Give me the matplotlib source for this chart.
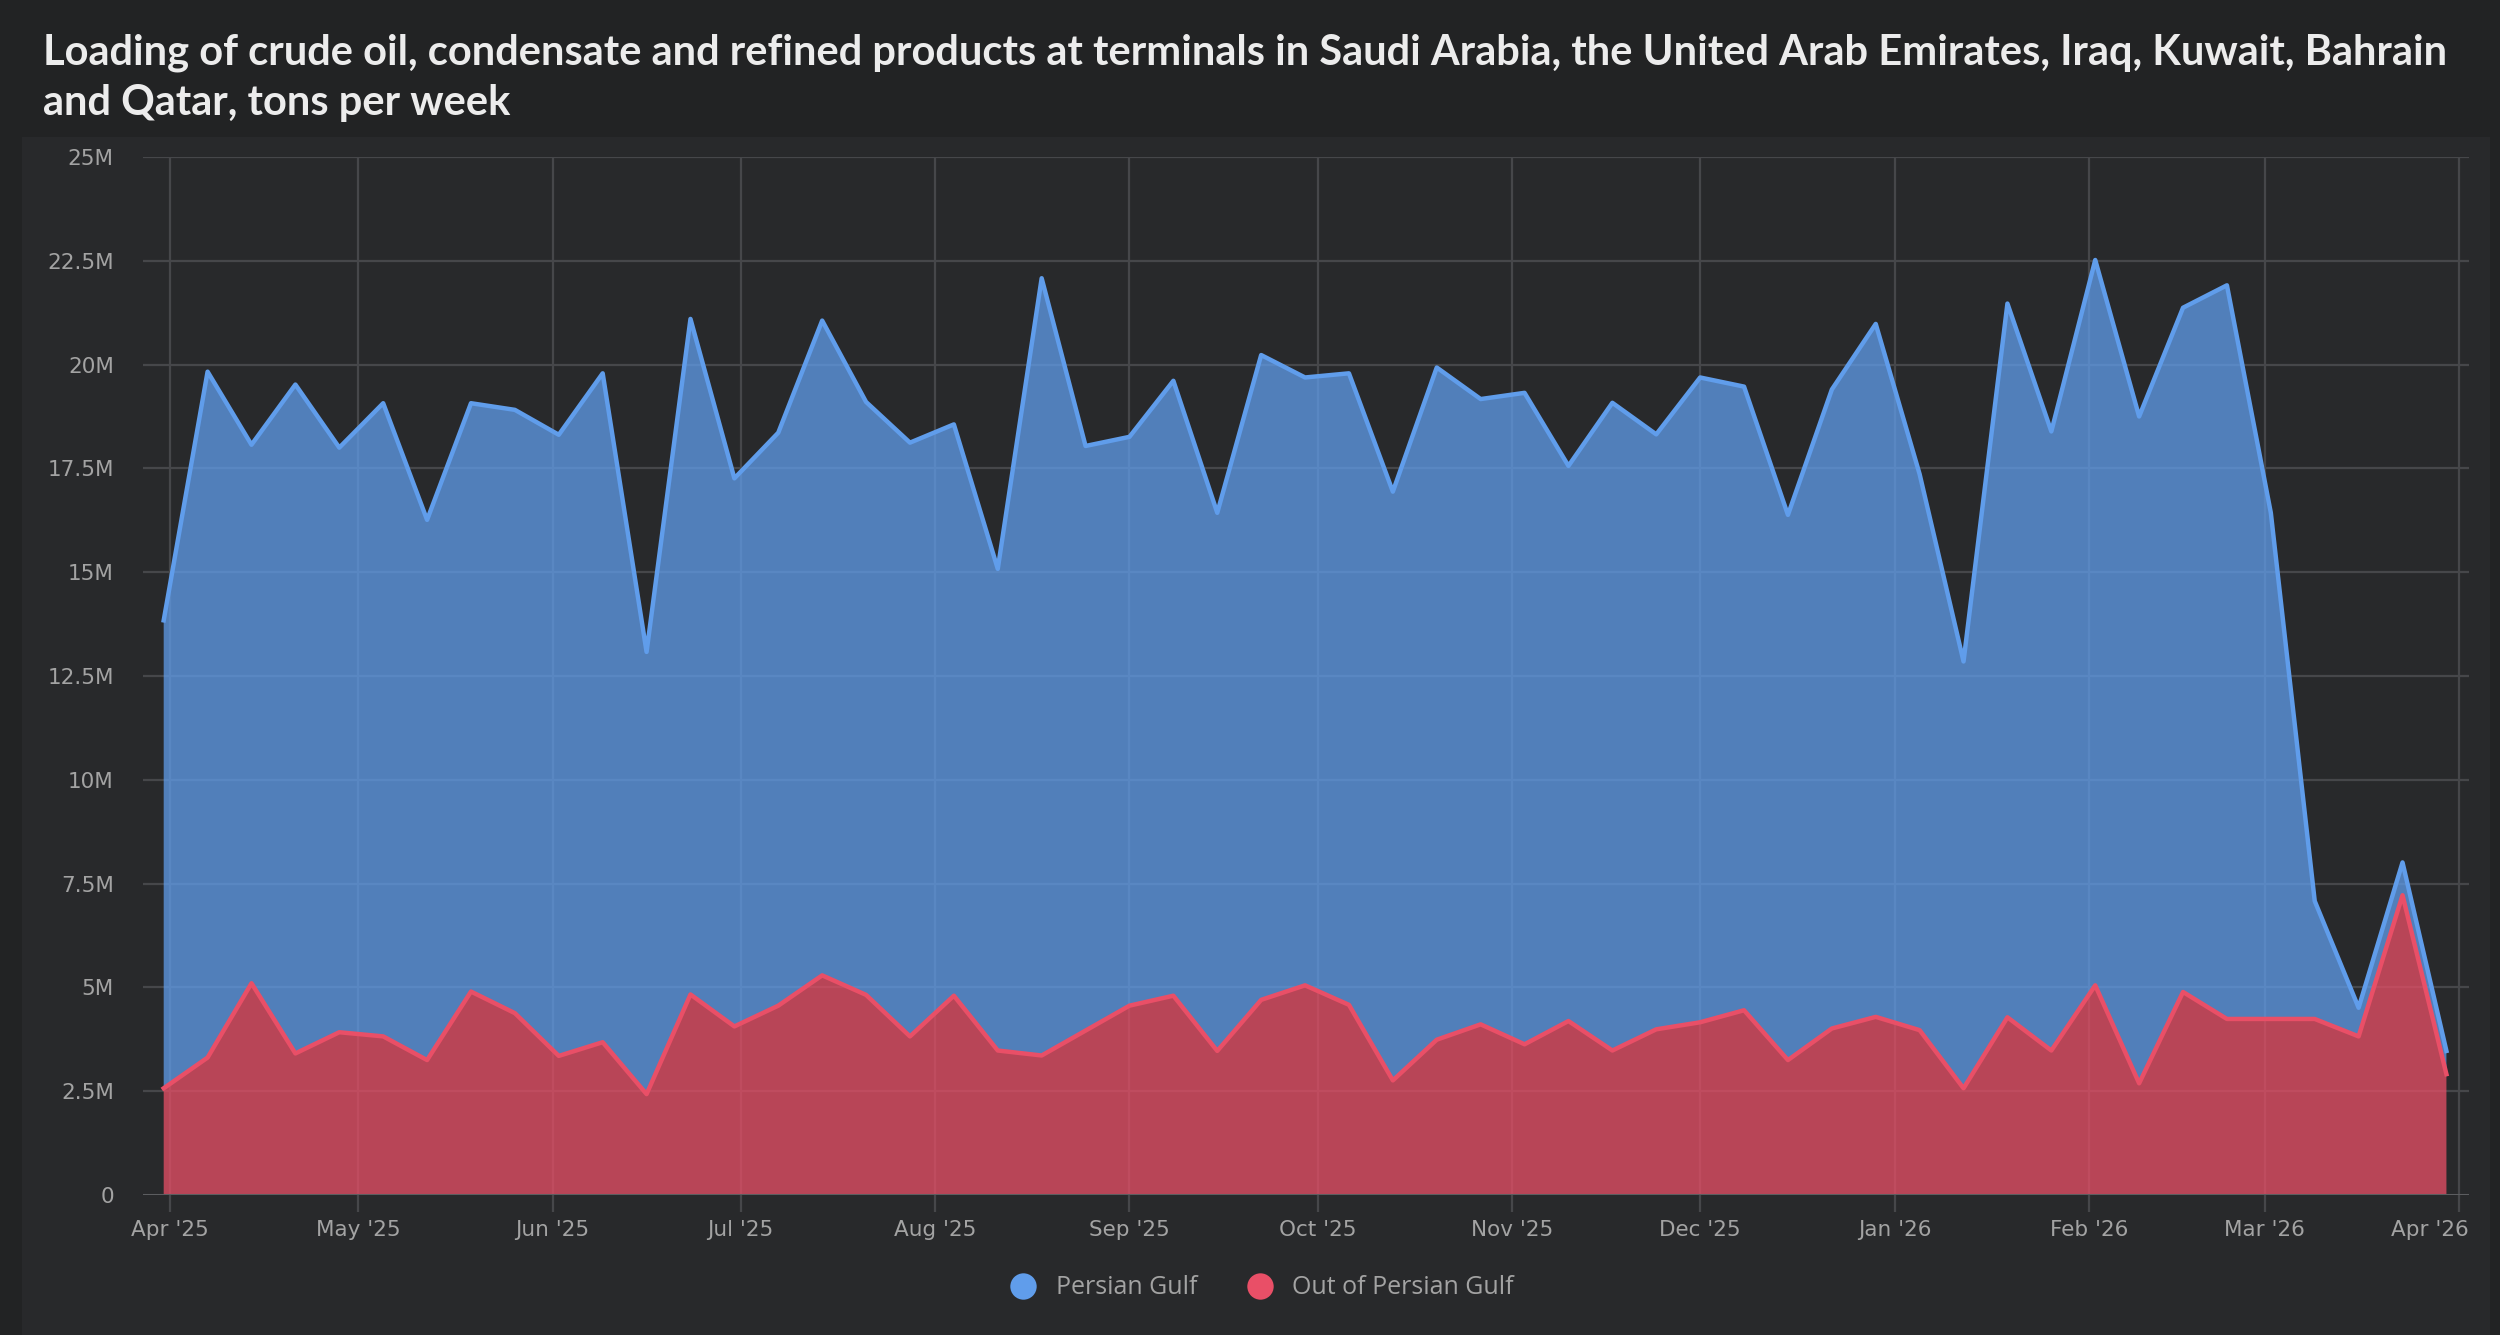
import matplotlib
matplotlib.use("Agg")
import matplotlib.pyplot as plt
import matplotlib.patches as mpatches
import matplotlib.transforms as mtransforms
from matplotlib.lines import Line2D
import numpy as np
import pandas as pd

# ---------------- data ----------------
weeks = pd.date_range("2025-03-31", periods=53, freq="7D")

# Persian Gulf loadings (million tons per week), stacked on top of "Out of Persian Gulf"
persian_gulf = [
    11.27, 16.52, 12.97, 16.11, 14.08, 15.25, 13.01, 14.17, 14.53, 14.96,
    16.11, 10.65, 16.27, 13.20, 13.80, 15.77, 14.28, 14.30, 13.76, 11.60,
    18.72, 14.08, 13.70, 14.81, 12.96, 15.53, 14.64, 15.21, 14.18, 16.19,
    15.06, 15.69, 13.37, 15.60, 14.33, 15.53, 15.02, 13.13, 15.39, 16.69,
    13.39, 10.28, 17.19, 14.91, 17.47, 16.06, 16.48, 17.67, 12.19, 2.84,
    0.69, 0.79, 0.56,
]
out_of_gulf = [
    2.57, 3.31, 5.10, 3.41, 3.92, 3.82, 3.25, 4.90, 4.38, 3.35,
    3.68, 2.43, 4.83, 4.06, 4.56, 5.29, 4.82, 3.82, 4.80, 3.48,
    3.36, 3.96, 4.56, 4.80, 3.47, 4.70, 5.05, 4.58, 2.76, 3.74,
    4.11, 3.63, 4.19, 3.48, 3.99, 4.16, 4.45, 3.25, 4.01, 4.29,
    3.97, 2.57, 4.28, 3.48, 5.05, 2.69, 4.89, 4.24, 4.24, 4.24,
    3.82, 7.22, 2.91,
]
series_names = ["Persian Gulf", "Out of Persian Gulf"]

y_ticks = [0, 2.5, 5, 7.5, 10, 12.5, 15, 17.5, 20, 22.5, 25]
y_tick_labels = ["0", "2.5M", "5M", "7.5M", "10M", "12.5M", "15M", "17.5M",
                 "20M", "22.5M", "25M"]
x_tick_dates = pd.date_range("2025-04-01", "2026-04-01", freq="MS")
x_tick_labels = ["Apr '25", "May '25", "Jun '25", "Jul '25", "Aug '25", "Sep '25",
                 "Oct '25", "Nov '25", "Dec '25", "Jan '26", "Feb '26", "Mar '26",
                 "Apr '26"]

title = ("Loading of crude oil, condensate and refined products at terminals in Saudi Arabia, "
         "the United Arab Emirates, Iraq, Kuwait, Bahrain\nand Qatar, tons per week")

# ---------------- style ----------------
BG_OUTER = "#222324"
BG_PANEL = "#28292b"
GRID = "#46474a"
TXT = "#a3a3a3"
BLUE = "#609deb"
RED = "#e94f67"

fig = plt.figure(figsize=(25, 13.35), dpi=100, facecolor=BG_OUTER)

# chart panel
panel = mpatches.Rectangle((22 / 2500, 0), (2490 - 22) / 2500, 1 - 137 / 1335,
                           transform=fig.transFigure, facecolor=BG_PANEL,
                           edgecolor="none", zorder=-10)
fig.patches.append(panel)

fig.text(43 / 2500, 1 - 34 / 1335, title, ha="left", va="top", color="#ececec",
         fontsize=30, family="Lato", fontweight="bold", linespacing=1.38)

ax = fig.add_axes([143 / 2500, 1 - 1195 / 1335, (2469 - 143) / 2500, (1195 - 157) / 1335])
ax.set_facecolor("none")

x = matplotlib.dates.date2num(weeks)

# stacked areas
red_top = np.array(out_of_gulf)
blue_top = red_top + np.array(persian_gulf)
ax.fill_between(x, 0, red_top, facecolor=RED, alpha=0.75, linewidth=0, zorder=2)
ax.fill_between(x, red_top, blue_top, facecolor=BLUE, alpha=0.75, linewidth=0, zorder=2)
ax.plot(x, blue_top, color=BLUE, lw=3.2, zorder=4, solid_joinstyle="round")
ax.plot(x, red_top, color=RED, lw=3.2, zorder=4, solid_joinstyle="round")

# axes limits
xl = matplotlib.dates.date2num(pd.Timestamp("2025-04-01")) - 4.3
xr = matplotlib.dates.date2num(pd.Timestamp("2026-04-01")) + 1.6
ax.set_xlim(xl, xr)
ax.set_ylim(0, 25)

# grid
for yv in y_ticks[1:]:
    ax.axhline(yv, color=GRID, lw=1.6, zorder=1)
ax.axhline(0, color="#5c5d60", lw=2.2, zorder=5)
xt = matplotlib.dates.date2num(x_tick_dates)
for xv in xt:
    ax.axvline(xv, color=GRID, lw=1.6, zorder=1)

ax.set_yticks(y_ticks)
ax.set_yticklabels(y_tick_labels)
ax.set_xticks(xt)
ax.set_xticklabels(x_tick_labels)
ax.tick_params(axis="y", length=0, pad=21, labelsize=15.5, labelcolor=TXT)
ax.tick_params(axis="x", length=12, width=1.6, color=GRID, pad=6, labelsize=15.5,
               labelcolor=TXT, direction="out")
for lab in ax.get_xticklabels() + ax.get_yticklabels():
    lab.set_family("DejaVu Sans")
last = ax.get_xticklabels()[-1]
last.set_ha("right")
last.set_transform(last.get_transform() + mtransforms.ScaledTranslation(10 / 100, 0, fig.dpi_scale_trans))
for s in ax.spines.values():
    s.set_visible(False)

# legend
handles = [Line2D([], [], marker="o", linestyle="none", markersize=19,
                  markerfacecolor=BLUE, markeredgecolor="none"),
           Line2D([], [], marker="o", linestyle="none", markersize=19,
                  markerfacecolor=RED, markeredgecolor="none")]
leg = fig.legend(handles, series_names, loc="center", bbox_to_anchor=(1256 / 2500, 1 - 1288 / 1335),
                 ncol=2, frameon=False, handletextpad=0.3, columnspacing=1.5,
                 prop={"family": "Open Sans", "size": 18})
for t in leg.get_texts():
    t.set_color(TXT)

fig.savefig("out.png", dpi=100, facecolor=BG_OUTER)
